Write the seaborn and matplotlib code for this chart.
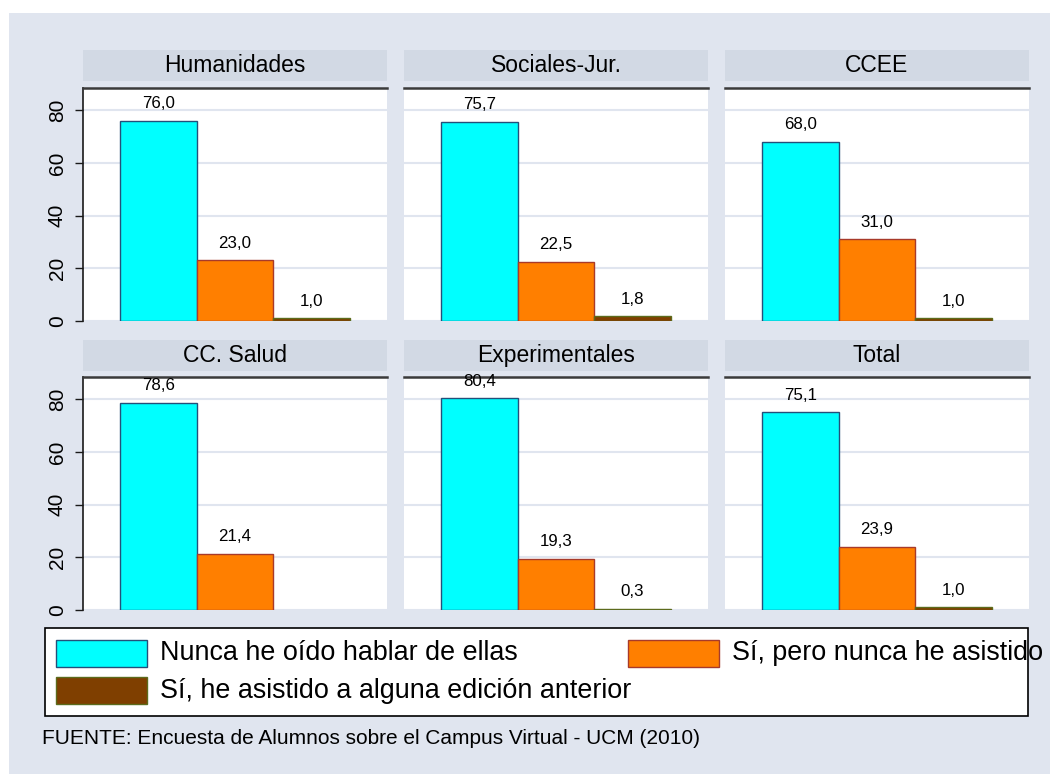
import numpy as np
import pandas as pd
import seaborn as sns
import matplotlib.pyplot as plt
from matplotlib.colors import to_rgba
from matplotlib.patches import Rectangle

# Datos (porcentajes por rama de conocimiento)
facultades = ["Humanidades", "Sociales-Jur.", "CCEE", "CC. Salud", "Experimentales", "Total"]
respuestas = ["Nunca he oído hablar de ellas",
              "Sí, pero nunca he asistido",
              "Sí, he asistido a alguna edición anterior"]
nunca = [76.0, 75.7, 68.0, 78.6, 80.4, 75.1]
si_no_asistido = [23.0, 22.5, 31.0, 21.4, 19.3, 23.9]
si_asistido = [1.0, 1.8, 1.0, np.nan, 0.3, 1.0]
yticks = [0, 20, 40, 60, 80]
fuente = "FUENTE: Encuesta de Alumnos sobre el Campus Virtual - UCM (2010)"

colores = ["#00ffff", "#ff7f00", "#7f3f00"]
bordes = ["#24507a", "#a83a2a", "#5c6b1c"]
BG = "#e0e5ef"
STRIP = "#d2d9e4"

rows = []
for i, fac in enumerate(facultades):
    for resp, val in zip(respuestas, [nunca[i], si_no_asistido[i], si_asistido[i]]):
        rows.append({"Facultad": fac, "Respuesta": resp, "Porcentaje": val})
df = pd.DataFrame(rows)

sns.set_style("white")
plt.rcParams["font.family"] = ["Liberation Sans", "DejaVu Sans"]
plt.rcParams["text.color"] = "black"
plt.rcParams["ytick.color"] = "black"
plt.rcParams["ytick.labelcolor"] = "black"

W, H = 1050, 774
fig = plt.figure(figsize=(W / 100, H / 100), dpi=100)
fig.patch.set_facecolor("white")
fig.add_artist(Rectangle((9 / W, 0), 1 - 9 / W, 1 - 13 / H, transform=fig.transFigure,
                         facecolor=BG, edgecolor="none", zorder=-10))

col_x = [83, 404, 725]
row_y = [(88, 321), (377, 610)]
strip_y = [(50, 81), (340, 371)]
pw = 304

def fmt(v):
    return f"{v:.1f}".replace(".", ",") if np.isfinite(v) else ""

for k, fac in enumerate(facultades):
    r, c = divmod(k, 3)
    x0 = col_x[c]
    yt, yb = row_y[r]
    ax = fig.add_axes([x0 / W, 1 - yb / H, pw / W, (yb - yt) / H])
    ax.set_facecolor("white")
    sub = df[df.Facultad == fac]
    sns.barplot(data=sub, x="Respuesta", y="Porcentaje", hue="Respuesta",
                order=respuestas, hue_order=respuestas, palette=colores,
                width=1.0, saturation=1, errorbar=None, legend=False, ax=ax)

    # bordes de las barras según su color
    for p in ax.patches:
        fc = p.get_facecolor()
        for col, ec in zip(colores, bordes):
            if np.allclose(fc, to_rgba(col)):
                p.set_edgecolor(ec)
                p.set_linewidth(1.0)

    for cont in ax.containers:
        ax.bar_label(cont, labels=[fmt(v) for v in cont.datavalues],
                     padding=7, fontsize=12.2, color="black", clip_on=False, zorder=6)

    ax.set_xlim(-0.99, 2.99)
    ax.set_ylim(0, 88.5)
    ax.set_xticks([])
    ax.set_yticks(yticks)
    ax.set_xlabel("")
    ax.set_ylabel("")
    ax.set_axisbelow(True)
    ax.grid(axis="y", color=BG, linewidth=1.5)
    ax.spines["right"].set_visible(False)
    ax.spines["bottom"].set_visible(False)
    ax.spines["top"].set_color("#3a3a3a")
    ax.spines["top"].set_linewidth(1.8)
    if c == 0:
        ax.spines["left"].set_color("#1a1a1a")
        ax.spines["left"].set_linewidth(1.2)
        ax.tick_params(axis="y", left=True, length=5.8, width=1, pad=5.8,
                       labelsize=15, color="#1a1a1a", labelcolor="black")
        plt.setp(ax.get_yticklabels(), rotation=90, va="center")
    else:
        ax.spines["left"].set_visible(False)
        ax.tick_params(axis="y", left=False, labelleft=False)

    # cabecera del panel
    sy0, sy1 = strip_y[r]
    fig.add_artist(Rectangle((x0 / W, 1 - sy1 / H), pw / W, (sy1 - sy0) / H,
                             transform=fig.transFigure, facecolor=STRIP,
                             edgecolor="none", zorder=-5))
    fig.text((x0 + pw / 2) / W, 1 - (sy0 + sy1) / 2 / H, fac,
             ha="center", va="center", fontsize=16.5)

# Leyenda
fig.add_artist(Rectangle((45 / W, 1 - 716 / H), 983 / W, 88 / H, transform=fig.transFigure,
                         facecolor="white", edgecolor="black", linewidth=1.2, zorder=1))
leg_pos = [(56, 640), (628, 640), (56, 677)]
for (lx, ly), resp, col, ec in zip(leg_pos, respuestas, colores, bordes):
    fig.add_artist(Rectangle((lx / W, 1 - (ly + 27) / H), 91 / W, 27 / H,
                             transform=fig.transFigure, facecolor=col,
                             edgecolor=ec, linewidth=1.0, zorder=2))
    fig.text((lx + 104) / W, 1 - (ly + 13.5) / H, resp, ha="left", va="center",
             fontsize=19.4, zorder=3)

fig.text(42 / W, 1 - 739 / H, fuente, ha="left", va="center", fontsize=15)

fig.savefig("out.png", dpi=100)
plt.close(fig)
